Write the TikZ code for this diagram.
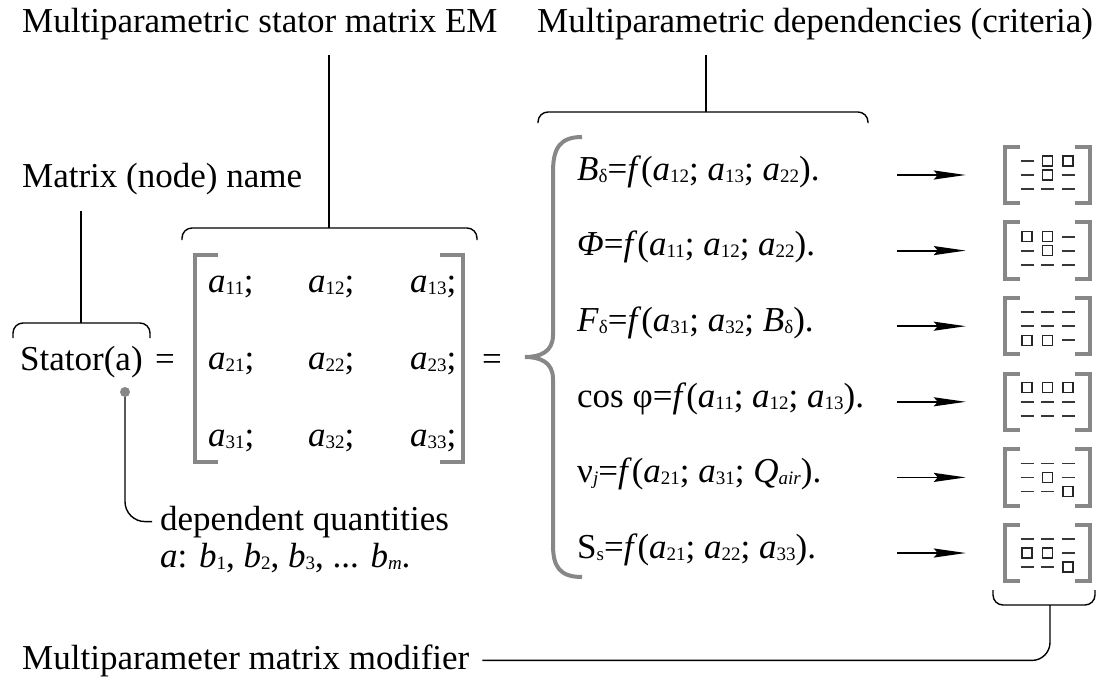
\documentclass[tikz,border=0pt]{standalone}
\usepackage{fontspec}
\setmainfont{Liberation Serif}
\usepackage{tikz}
\usetikzlibrary{arrows.meta, positioning, calc}

\definecolor{brkgray}{RGB}{135,135,135}
\definecolor{cellgray}{RGB}{55,55,55}
\newcommand{\sub}[1]{\raisebox{-2pt}{\fontsize{19}{19}\selectfont #1}}

\begin{document}
\begin{tikzpicture}[x=1pt, y=-1pt,
    lbl/.style={anchor=base west, inner sep=0pt, font=\fontsize{35}{40}\selectfont},
    link/.style={line width=1.4pt},
    brace/.style={line width=1.4pt, rounded corners=10pt},
    brk/.style={draw=brkgray, line width=4pt},
    icon/.style={minimum width=85pt, minimum height=56pt, inner sep=0pt},
    cellbox/.style={draw=black!85, line width=1.3pt},
    celldash/.style={draw=cellgray, line width=1.8pt},
    arr/.style={-{Stealth[length=32pt, width=9pt, inset=4pt]}, line width=1.8pt}
]
\useasboundingbox (0,0) rectangle (1097,677);

% Labels
\node[lbl] (tem) at (22,33) {Multiparametric stator matrix EM};
\node[lbl] (tdep) at (537,33) {Multiparametric dependencies (criteria)};
\node[lbl] (tname) at (22,187) {Matrix (node) name};
\node[lbl] (tmod) at (22,669) {Multiparameter matrix modifier};

% Stator(a) = [ ... ] =
\node[lbl] (stator) at (20,370) {Stator(a)};
\node[lbl] (eqa) at (155,370) {=};
\node[lbl] (eqb) at (482,370) {=};
\node[circle, fill=brkgray, minimum size=10pt, inner sep=0pt] (dot) at (125,392) {};

% Matrix
\node[minimum width=268pt, minimum height=207pt, inner sep=0pt] (mat) at (329,358.5) {};
\draw[brk] ([xshift=23pt]mat.north west) -- (mat.north west) -- (mat.south west) -- ([xshift=23pt]mat.south west);
\draw[brk] ([xshift=-23pt]mat.north east) -- (mat.north east) -- (mat.south east) -- ([xshift=-23pt]mat.south east);
\node[lbl] (a11) at (208,292) {\textit{a}\sub{11};};
\node[lbl] (a12) at (308,292) {\textit{a}\sub{12};};
\node[lbl] (a13) at (410,292) {\textit{a}\sub{13};};
\node[lbl] (a21) at (208,369) {\textit{a}\sub{21};};
\node[lbl] (a22) at (308,369) {\textit{a}\sub{22};};
\node[lbl] (a23) at (410,369) {\textit{a}\sub{23};};
\node[lbl] (a31) at (208,446) {\textit{a}\sub{31};};
\node[lbl] (a32) at (308,446) {\textit{a}\sub{32};};
\node[lbl] (a33) at (410,446) {\textit{a}\sub{33};};

% Dependent quantities
\node[lbl] (dep) at (160,530) {dependent quantities};
\node[lbl] (depb) at (160,567) {\textit{a}: \textit{b}\sub{1}, \textit{b}\sub{2}, \textit{b}\sub{3}, ... \textit{b}\sub{\textit{m}}.};

% Dependencies
\draw[brk] (582,137) .. controls (560,137) and (553,148) .. (553,172) -- (553,335)
    .. controls (553,352) and (540,357) .. (525,357)
    .. controls (540,357) and (553,362) .. (553,379) -- (553,545)
    .. controls (553,567) and (560,577) .. (582,577);
\node[lbl] (e1) at (577,180) {\textit{B}\sub{δ}=\textit{f}(\textit{a}\sub{12}; \textit{a}\sub{13}; \textit{a}\sub{22}).};
\node[lbl] (e2) at (577,255) {\textit{Φ}=\textit{f}(\textit{a}\sub{11}; \textit{a}\sub{12}; \textit{a}\sub{22}).};
\node[lbl] (e3) at (577,331) {\textit{F}\sub{δ}=\textit{f}(\textit{a}\sub{31}; \textit{a}\sub{32}; \textit{B}\sub{δ}).};
\node[lbl] (e4) at (577,407) {cos φ=\textit{f}(\textit{a}\sub{11}; \textit{a}\sub{12}; \textit{a}\sub{13}).};
\node[lbl] (e5) at (577,482) {ν\sub{\textit{j}}=\textit{f}(\textit{a}\sub{21}; \textit{a}\sub{31}; \textit{Q}\sub{\textit{air}}).};
\node[lbl] (e6) at (577,558) {S\sub{s}=\textit{f}(\textit{a}\sub{21}; \textit{a}\sub{22}; \textit{a}\sub{33}).};

% Modifier icons (d = dash, s = square)
\foreach \i/\yy/\cells in {1/175/{d,s,s,d,s,d,d,d,d}, 2/250.6/{s,s,d,d,s,d,d,d,d},
    3/326.2/{d,d,d,d,d,d,s,s,d}, 4/401.8/{s,s,s,d,d,d,d,d,d},
    5/477.4/{d,d,d,d,s,d,d,d,s}, 6/553/{d,d,d,s,s,d,d,d,s}} {
  \node[icon] (m\i) at (1047.5,\yy) {};
  \coordinate (s\i) at (897,\yy);
  \draw[arr, shorten >=39pt] (s\i) -- (m\i.west);
  \draw[brk] ([xshift=15pt]m\i.north west) -- (m\i.north west) -- (m\i.south west) -- ([xshift=15pt]m\i.south west);
  \draw[brk] ([xshift=-15pt]m\i.north east) -- (m\i.north east) -- (m\i.south east) -- ([xshift=-15pt]m\i.south east);
  \foreach \c [count=\k from 0] in \cells {
    \pgfmathsetmacro\cx{(mod(\k,3)-1)*20.5}
    \pgfmathsetmacro\cy{(floor(\k/3)-1)*14}
    \if\c s
      \draw[cellbox] ([shift={(\cx,\cy)}]m\i.center) ++(-5,-5) rectangle ++(10,10);
    \else
      \draw[celldash] ([shift={(\cx,\cy)}]m\i.center) ++(-6.5,0) -- ++(13,0);
    \fi
  }
}

% Braces and leader lines
\coordinate (b1) at (329,228);
\coordinate (b2) at (706,112);
\coordinate (b3) at (81,323);
\coordinate (b4) at (1050,605);
\draw[brace] (182,240) -- (182,228) -- (477,228) -- (477,240);
\draw[brace] (538,123) -- (538,112) -- (868,112) -- (868,123);
\draw[brace] (13,338) -- (13,323) -- (150,323) -- (150,338);
\draw[brace] (993,590) -- (993,605) -- (1095,605) -- (1095,590);
\draw[link, shorten >=14pt] (b1) -- (b1 |- tem.south);
\draw[link, shorten >=14pt] (b2) -- (b2 |- tdep.south);
\draw[link, shorten >=16pt] (b3) -- (b3 |- tname.south);
\draw[link, rounded corners=18pt, shorten >=13pt] (b4) |- (tmod.east);
\draw[link, rounded corners=20pt, shorten >=8pt] (dot) |- (dep.west);
\end{tikzpicture}
\end{document}
